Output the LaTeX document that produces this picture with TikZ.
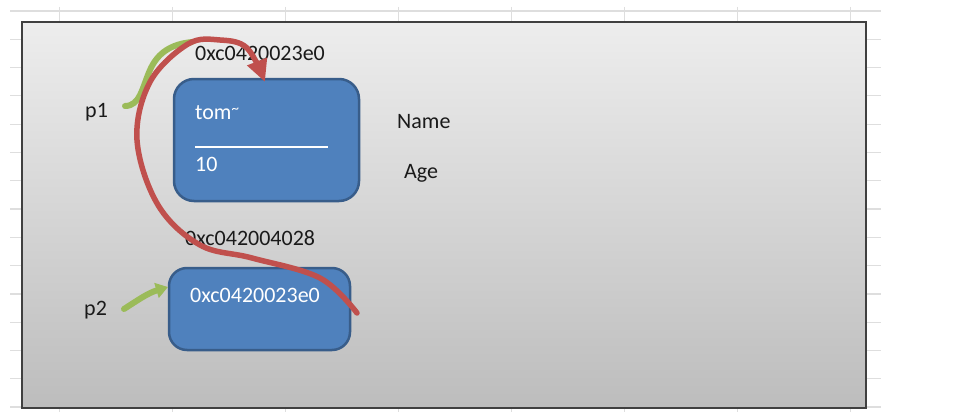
\documentclass[tikz,border=0pt]{standalone}
\usepackage{fontspec}
\setmainfont{Carlito}
\usetikzlibrary{arrows.meta}
\definecolor{gridc}{HTML}{DEDEDE}
\definecolor{framec}{HTML}{404040}
\definecolor{boxfill}{HTML}{4F81BD}
\definecolor{boxdraw}{HTML}{385D8A}
\definecolor{arrred}{HTML}{C0504D}
\definecolor{arrgreen}{HTML}{9BBB59}
\definecolor{txt}{HTML}{1A1A1A}
\begin{document}
\begin{tikzpicture}[x=1pt,y=-1pt,
  lbl/.style={inner sep=0pt, anchor=base west, text=txt, font=\fontsize{22}{24}\selectfont},
  wlbl/.style={lbl, text=white},
  membox/.style={draw=boxdraw, fill=boxfill, line width=2.5pt, inner sep=0pt},
  redarrow/.style={draw=arrred, line width=5.5pt, line cap=round, -{Triangle[width=20pt,length=22pt]}},
  greenline/.style={draw=arrgreen, line width=6pt, line cap=round}]
\useasboundingbox (0,0) rectangle (957,412);
\fill[white] (0,0) rectangle (957,412);
% spreadsheet grid
\foreach \k in {0,...,14} \draw[gridc, line width=1.2pt] (10,{11+28.29*\k}) -- (881,{11+28.29*\k});
\foreach \k in {0,...,7} \draw[gridc, line width=1.2pt] ({59.5+113*\k},7) -- ({59.5+113*\k},412);
% frame
\draw[framec, line width=2pt, top color=black!7, bottom color=black!26] (22,22) rectangle (866,408);
% boxes
\draw[membox, rounded corners=20pt] (174,79) rectangle (359,201);
\node[membox, draw=none, fill=none, minimum width=185pt, minimum height=122pt] (box1) at (266.5,140) {};
\draw[membox, rounded corners=18pt] (169,268) rectangle (350,350);
\node[draw=none, inner sep=0pt, minimum width=181pt, minimum height=82pt] (box2) at (259.5,309) {};
\coordinate (sepL) at (195,147);
\coordinate (sepR) at (328,147);
\draw[white, line width=1.3pt] (sepL) -- (sepR);
% texts
\node[lbl] (addr1) at (195,60) {0xc0420023e0};
\node[wlbl] (name) at (195,119) {tom\raisebox{6pt}{\fontsize{15}{15}\selectfont\char`~}};
\node[wlbl] (age) at (195,171) {10};
\node[lbl] (namel) at (397,128) {Name};
\node[lbl] (agel) at (404,178) {Age};
\node[lbl] (p1) at (85,117) {p1};
\node[lbl] (addr2) at (185,245) {0xc042004028};
\node[wlbl] (ptr) at (190,302) {0xc0420023e0};
\node[lbl] (p2) at (84,315) {p2};
% green arrows
\coordinate (g1s) at (125,106);
\coordinate (g1e) at (192,42);
\draw[greenline] (g1s) .. controls (140,106) and (142,88) .. (150,70) .. controls (158,52) and (172,44) .. (g1e);
\coordinate (g2s) at (124,309);
\coordinate (g2e) at (168,287);
\draw[greenline, line width=6pt, -{Triangle[width=15pt,length=12pt]}] (g2s) .. controls (138,300) and (148,293) .. (g2e);
% red arrow
\coordinate (rs) at (357,313);
\coordinate (re) at (265,82);
\draw[redarrow] plot[smooth, tension=0.6] coordinates {(rs) (320,278) (252,258) (200,245) (158,205) (137,140) (150,82) (188,44) (220,40) (247,48) (re)};
\end{tikzpicture}
\end{document}
